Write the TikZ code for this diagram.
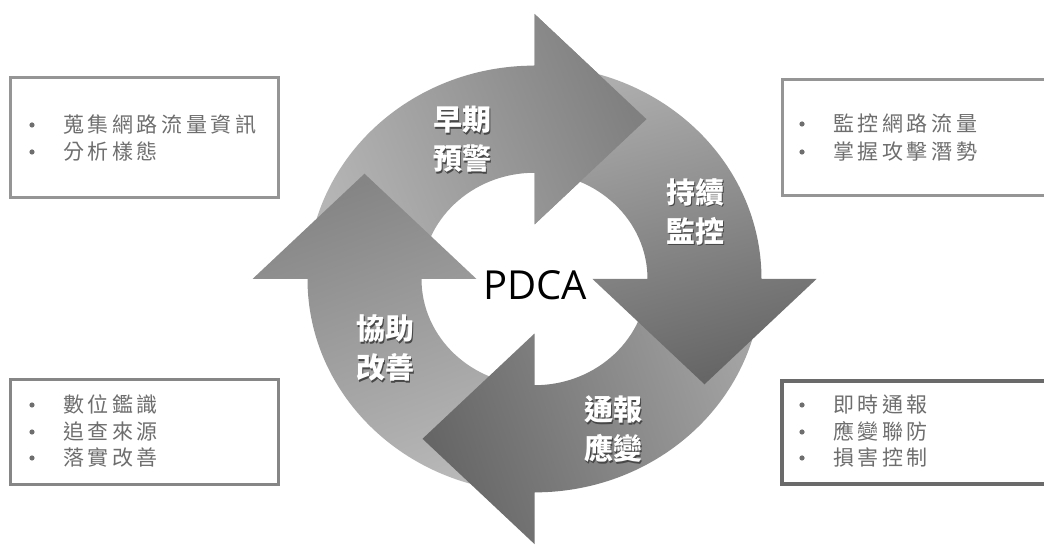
\documentclass[tikz,border=0pt]{standalone}
\usepackage{fontspec}
\setmainfont{Open Sans}
\newfontfamily\cjk{Noto Sans CJK TC}
\newfontfamily\cjkbox[LetterSpace=17]{Noto Sans CJK TC}
\definecolor{itemgray}{HTML}{6E6E6E}
\definecolor{boxgray}{HTML}{959595}
\definecolor{boxdark}{HTML}{6A6A6A}
\definecolor{shadowgray}{HTML}{474747}
\newcommand\shtext[1]{\makebox[0pt][l]{\kern1.5pt\raisebox{-1.5pt}{\textcolor{shadowgray}{#1}}}#1}
\begin{document}
\begin{tikzpicture}[x=1pt,y=1pt,
  infobox/.style={draw=#1, line width=3pt, fill=white, inner sep=0pt},
  item/.style={anchor=base west, inner sep=0pt, text=itemgray,
    font=\cjkbox\fontsize{21}{24}\selectfont},
  lbl/.style={inner sep=0pt, align=center, text=white,
    font=\cjk\bfseries\fontsize{29}{39}\selectfont},
]
\useasboundingbox (0,0) rectangle (1044,546);
\clip (0,0) rectangle (1044,546);
\fill[white] (0,0) rectangle (1044,546);

% info boxes
\node[infobox=boxgray, minimum width=268pt, minimum height=120pt] (tlbox) at (144,408) {};
\node[infobox=boxgray, minimum width=268pt, minimum height=116pt] (trbox) at (916,408) {};
\node[infobox=boxgray!90!black, minimum width=268pt, minimum height=105pt] (blbox) at (144,113.5) {};
\node[infobox=boxdark, line width=4pt, minimum width=268pt, minimum height=103pt] (brbox) at (916,113.5) {};

% bullets
\foreach \bx/\by in {32/421, 32/394, 802/422, 802/394,
                     32/141, 32/114, 32/88, 802/141, 802/114, 802/88}
  \fill[itemgray] (\bx,\by) circle (2.6pt);

% item texts
\node[item] (tl1) at (63,413) {蒐集網路流量資訊};
\node[item] (tl2) at (63,386) {分析樣態};
\node[item] (tr1) at (833,414) {監控網路流量};
\node[item] (tr2) at (833,386) {掌握攻擊潛勢};
\node[item] (bl1) at (63,133) {數位鑑識};
\node[item] (bl2) at (63,106) {追查來源};
\node[item] (bl3) at (63,80) {落實改善};
\node[item] (br1) at (833,133) {即時通報};
\node[item] (br2) at (833,106) {應變聯防};
\node[item] (br3) at (833,80) {損害控制};

% cycle arrows
\begin{scope}[shift={(534.5,267)}, yscale=0.94]
  \def\toparrow{(180:227) arc[start angle=180,end angle=90,radius=227] -- (0,282) -- (112,170) -- (0,58) -- (0,113) arc[start angle=90,end angle=180,radius=113] -- cycle}
  \def\rightarrow{(90:227) arc[start angle=90,end angle=0,radius=227] -- (282,0) -- (170,-112) -- (58,0) -- (113,0) arc[start angle=0,end angle=90,radius=113] -- cycle}
  \def\bottomarrow{(0:227) arc[start angle=0,end angle=-90,radius=227] -- (0,-282) -- (-112,-170) -- (0,-58) -- (0,-113) arc[start angle=-90,end angle=0,radius=113] -- cycle}
  \def\leftarrow{(270:227) arc[start angle=270,end angle=180,radius=227] -- (-282,0) -- (-170,112) -- (-58,0) -- (-113,0) arc[start angle=180,end angle=270,radius=113] -- cycle}
  \shade[top color=black!29, bottom color=black!50, shading angle=112] \toparrow;
  \shade[top color=black!28, bottom color=black!48, shading angle=200] \leftarrow;
  \shade[top color=black!36, bottom color=black!60, shading angle=-71] \bottomarrow;
  \shade[top color=black!32, bottom color=black!60, shading angle=15] \rightarrow;
  \begin{scope}
    \clip (-1,0) rectangle (400,400);
    \shade[top color=black!29, bottom color=black!50, shading angle=112] \toparrow;
  \end{scope}
\end{scope}

% labels
\node[lbl] (early) at (462,406) {\shtext{早期}\\\shtext{預警}};
\node[lbl] (monitor) at (695,333.5) {\shtext{持續}\\\shtext{監控}};
\node[lbl] (improve) at (385,197) {\shtext{協助}\\\shtext{改善}};
\node[lbl] (respond) at (613,116) {\shtext{通報}\\\shtext{應變}};
\node[inner sep=0pt, font=\fontsize{40}{42}\selectfont] (pdca) at (535,261) {PDCA};
\end{tikzpicture}
\end{document}
